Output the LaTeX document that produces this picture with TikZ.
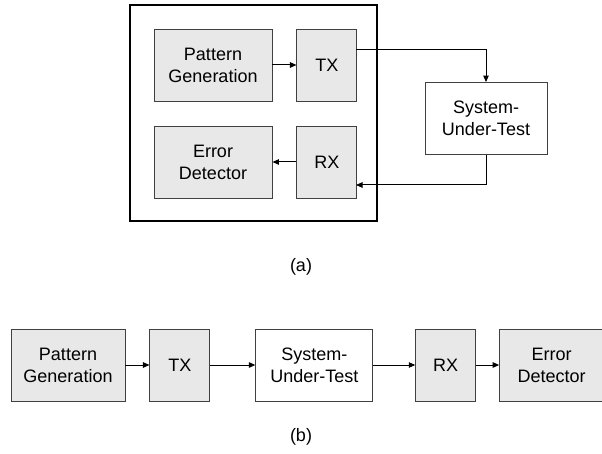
\documentclass[tikz,border=0pt]{standalone}
\usepackage{fontspec}
\setmainfont{Liberation Sans}
\usetikzlibrary{arrows.meta,positioning,calc}

\begin{document}
\begin{tikzpicture}[x=1pt,y=-1pt,
  block/.style={draw=black!75,fill=black!9,line width=0.9pt,minimum height=72pt,inner sep=0pt,align=center,font=\fontsize{18}{22}\selectfont},
  sutblock/.style={block,fill=white},
  pfeil/.style={-{Triangle[length=6.5pt,width=5.5pt]},line width=1pt},
  caption/.style={font=\fontsize{18}{22}\selectfont}]
\useasboundingbox (0,0) rectangle (602,454);
%Teil (a): Tester im Rahmen, SUT aussen
\draw[line width=2pt] (130,5) rectangle (377,221);
\node[block,minimum width=118pt] (pgA) at (213,65) {Pattern\\Generation};
\node[block,minimum width=60pt,right=24pt of pgA] (txA) {TX};
\node[block,minimum width=118pt] (edA) at (213,162) {Error\\Detector};
\node[block,minimum width=60pt,right=24pt of edA] (rxA) {RX};
\node[sutblock,minimum width=122pt] (sutA) at (486,118.5) {System-\\Under-Test};
\coordinate (txOut) at (356,50);
\coordinate (rxIn) at (356,185);
\draw[pfeil] (pgA) -- (txA);
\draw[pfeil] (txOut) -| (sutA.north);
\draw[pfeil] (sutA.south) |- (rxIn);
\draw[pfeil] (rxA) -- (edA);
\node[caption] (capA) at (301,267) {(a)};
%Teil (b): alles in einer Reihe
\node[block,minimum width=114pt] (pgB) at (68,365) {Pattern\\Generation};
\node[block,minimum width=60pt,right=24pt of pgB] (txB) {TX};
\node[sutblock,minimum width=117pt,right=45pt of txB] (sutB) {System-\\Under-Test};
\node[block,minimum width=60pt,right=42pt of sutB] (rxB) {RX};
\node[block,minimum width=104pt,right=23pt of rxB] (edB) {Error\\Detector};
\foreach \von/\nach in {pgB/txB,txB/sutB,sutB/rxB,rxB/edB}{
  \draw[pfeil] (\von) -- (\nach);
}
\node[caption] (capB) at (301,437) {(b)};
\end{tikzpicture}
\end{document}
